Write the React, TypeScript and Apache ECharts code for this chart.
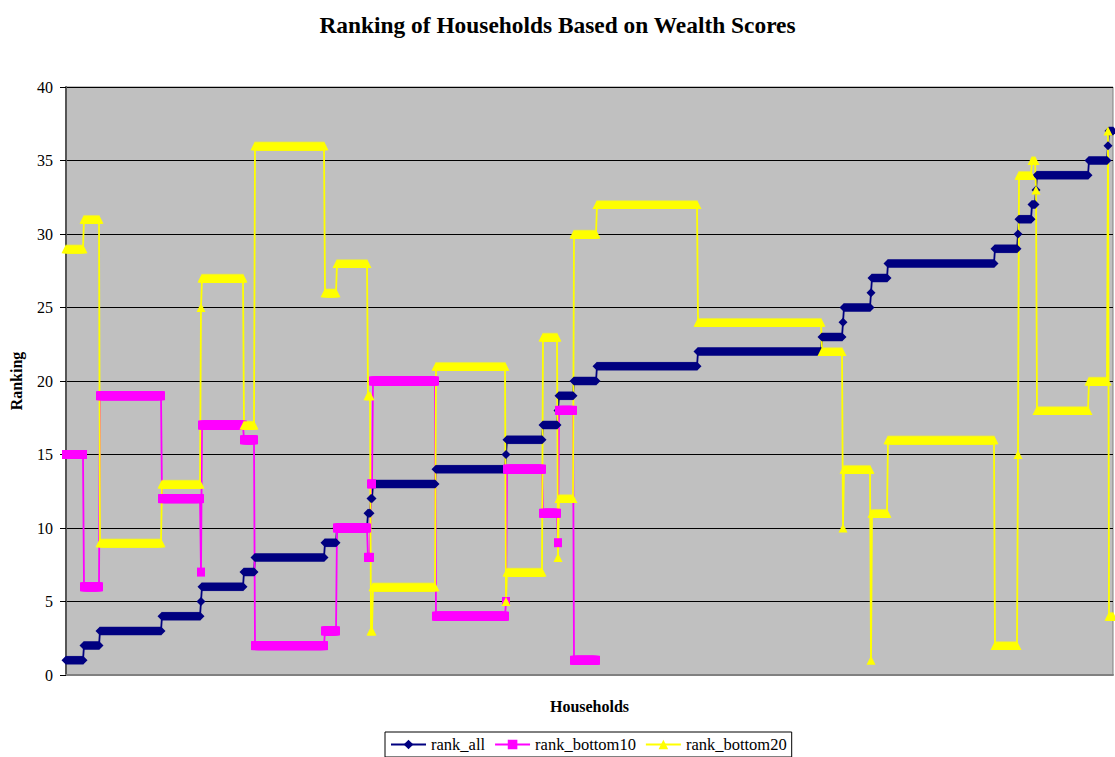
import React, { useEffect, useRef } from "react";
import * as echarts from "echarts";

// Number of households in each rank_all group (households sorted by rank_all)
const groupCounts = [18, 16, 62, 39, 1, 42, 11, 70, 12, 31, 3, 2, 63, 70, 1, 36, 15, 1, 15, 23, 101, 124, 21, 1, 27, 1, 16, 107, 23, 1, 13, 4, 1, 52, 19, 1, 5];
// rank_all value for each group
const rankAll = [1, 2, 3, 4, 5, 6, 7, 8, 9, 10, 11, 12, 13, 14, 15, 16, 17, 18, 19, 20, 21, 22, 23, 24, 25, 26, 27, 28, 29, 30, 31, 32, 33, 34, 35, 36, 37];
// rank_bottom10 value for each group (only the first 20 groups)
const rankBottom10 = [15, 6, 19, 12, 7, 17, 16, 2, 3, 10, 8, 13, 20, 4, 5, 14, 11, 9, 18, 1];
// rank_bottom20 value for each group
const rankBottom20 = [29, 31, 9, 13, 25, 27, 17, 36, 26, 28, 19, 3, 6, 21, 5, 7, 23, 8, 12, 30, 32, 24, 22, 10, 14, 1, 11, 16, 2, 15, 34, 35, 33, 18, 20, 37, 4];
const yTicks = { min: 0, max: 40, interval: 5 };

function expand(values: (number | null)[]): (number | null)[] {
  const out: (number | null)[] = [];
  groupCounts.forEach((c, g) => {
    const v = g < values.length ? values[g] : null;
    for (let k = 0; k < c; k++) out.push(v);
  });
  return out;
}

const SERIF = "Liberation Serif";

export default function App() {
  const ref = useRef<HTMLDivElement>(null);
  useEffect(() => {
    document.body.style.margin = "0";
    if (!ref.current) return;
    const chart = echarts.init(ref.current, null, { renderer: "svg" });
    const all = expand(rankAll);
    const b10 = expand(rankBottom10);
    const b20 = expand(rankBottom20);
    const cats = all.map((_, i) => String(i + 1));
    const mk = (name: string, data: (number | null)[], color: string, symbol: string, size: number | number[]) => ({
      name,
      type: "line",
      data,
      symbol,
      symbolSize: size,
      showAllSymbol: true,
      connectNulls: false,
      silent: true,
      lineStyle: { color, width: 1.8 },
      itemStyle: { color, borderWidth: 0 },
    });
    chart.setOption({
      animation: false,
      backgroundColor: "#ffffff",
      textStyle: { fontFamily: SERIF },
      title: {
        text: "Ranking of Households Based on Wealth Scores",
        left: "center",
        top: 8,
        textStyle: { fontFamily: SERIF, fontWeight: "bold", fontSize: 23.4, color: "#000" },
      },
      grid: {
        left: 66,
        right: 2,
        top: 87,
        bottom: 82,
        show: true,
        backgroundColor: "#C0C0C0",
        borderColor: "#808080",
        borderWidth: 1,
      },
      legend: {
        left: 385,
        top: 732,
        padding: [4, 5, 4, 5],
        itemGap: 9,
        itemWidth: 35,
        itemHeight: 12,
        borderColor: "#000",
        borderWidth: 1,
        textStyle: { fontFamily: SERIF, fontSize: 16.5, color: "#000" },
        data: ["rank_all", "rank_bottom10", "rank_bottom20"],
      },
      xAxis: {
        type: "category",
        data: cats,
        boundaryGap: false,
        name: "Households",
        nameLocation: "middle",
        nameGap: 23,
        nameTextStyle: { fontFamily: SERIF, fontWeight: "bold", fontSize: 16, color: "#000" },
        axisLine: { lineStyle: { color: "#808080", width: 2 } },
        axisTick: { show: false },
        axisLabel: { show: false },
        splitLine: { show: false },
      },
      yAxis: {
        type: "value",
        min: yTicks.min,
        max: yTicks.max,
        interval: yTicks.interval,
        name: "Ranking",
        nameLocation: "middle",
        nameGap: 42,
        nameRotate: 90,
        nameTextStyle: { fontFamily: SERIF, fontWeight: "bold", fontSize: 16, color: "#000" },
        axisLine: { show: true, lineStyle: { color: "#555555", width: 2 } },
        axisTick: { show: true, length: 6, lineStyle: { color: "#000" } },
        axisLabel: { margin: 13, fontFamily: SERIF, fontSize: 16, color: "#000" },
        splitLine: { lineStyle: { color: "#000", width: 1 } },
      },
      series: [
        mk("rank_all", all, "#000080", "diamond", 9),
        mk("rank_bottom10", b10, "#FF00FF", "rect", [8, 9]),
        mk("rank_bottom20", b20, "#FFFF00", "triangle", [9, 9]),
      ],
    });
    return () => chart.dispose();
  }, []);
  return <div ref={ref} style={{ width: 1115, height: 757 }} />;
}
